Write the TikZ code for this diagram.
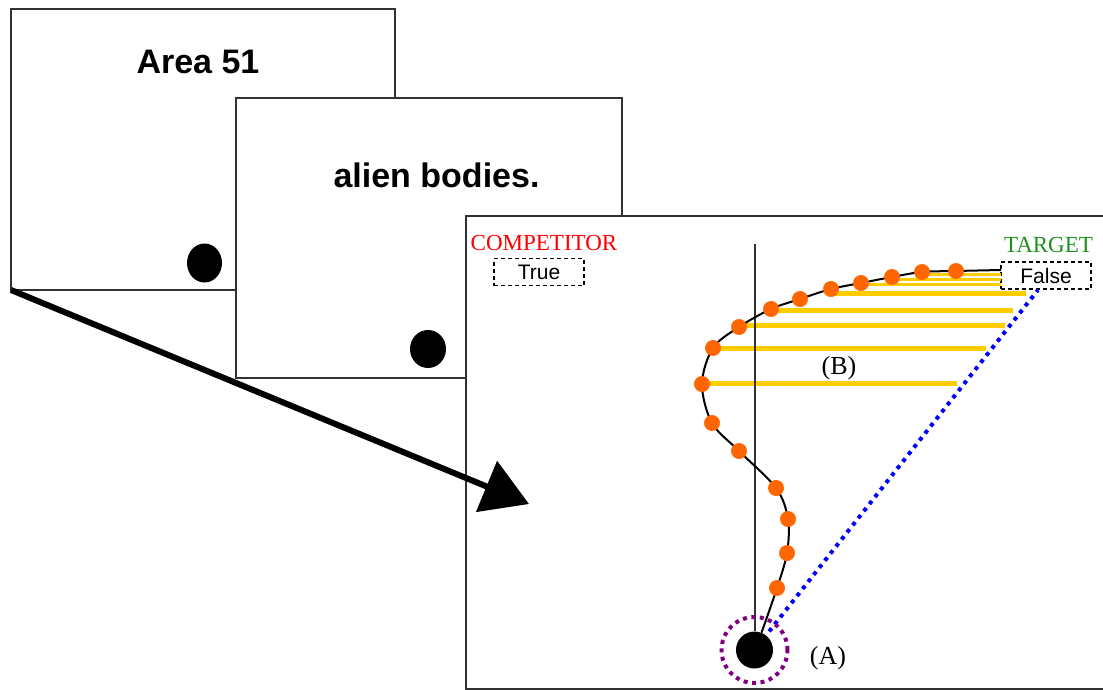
\documentclass[tikz,border=0pt]{standalone}
\usepackage{fontspec}
\setmainfont{Liberation Serif}
\setsansfont{Liberation Sans}
\usepackage{tikz}
\usetikzlibrary{arrows.meta,calc,positioning}
\definecolor{framegray}{RGB}{50,50,50}
\definecolor{dotorange}{RGB}{255,102,0}
\definecolor{trackgold}{RGB}{255,204,0}
\definecolor{targetgreen}{RGB}{30,145,30}
\definecolor{ringpurple}{RGB}{128,0,128}

\begin{document}
\begin{tikzpicture}[x=1pt,y=-1pt,
  slide/.style={draw=framegray,line width=2pt,fill=white,inner sep=0pt,outer sep=0pt},
  bigword/.style={font=\sffamily\bfseries\fontsize{34}{40}\selectfont},
  label/.style={font=\fontsize{23}{26}\selectfont,inner sep=0pt},
  answer/.style={draw,dash pattern=on 4pt off 3pt,line width=1.8pt,fill=white,minimum width=90pt,minimum height=27pt,inner sep=0pt,font=\sffamily\fontsize{21}{24}\selectfont},
  track/.style={draw=trackgold,line width=5pt},
  sightline/.style={draw=blue,line width=4pt,dash pattern=on 4pt off 5pt,shorten <=5pt},
  bigarrow/.style={line width=6pt,-{Triangle[length=46pt,width=54pt]}}]
\useasboundingbox (0,0) rectangle (1103,690);
\node[slide,minimum width=384pt,minimum height=281pt] (slide1) at (203,149.5) {};
\node[bigword] (word1) at (198,62) {Area 51};
\fill (204.5,263) ellipse [x radius=17.5,y radius=19.5];
\node[slide,minimum width=386pt,minimum height=280pt] (slide2) at (429,238) {};
\node[bigword] (word2) at (436.5,175) {alien bodies.};
\fill (428,349) ellipse [x radius=18,y radius=19];
\draw[slide] (466,216) rectangle (1108,689);
\node[label,text=red] (competitor) at (544,243) {COMPETITOR};
\node[answer] (truebox) at (539,272) {True};
\node[label,text=targetgreen] (target) at (1048.5,245) {TARGET};
\node[answer] (falsebox) at (1046,275.5) {False};
\draw[track] (702,383) -- (957,383) (714,348) -- (986,348) (740,325) -- (1005,325) (771,310) -- (1013,310) (832,293) -- (1026,293);
\draw[track,line width=3pt] (862,284) -- (1001,284) (892,279) -- (1001,279) (922,274) -- (1001,274);
\node[circle,fill=black,minimum size=37pt,inner sep=0pt] (start) at (754.5,650) {};
\coordinate (axistop) at (754.5,244);
\draw[framegray,line width=2pt] (axistop) -- (start);
\draw[sightline] (start) -- ($(falsebox.south)+(-8,0)$);
\node[circle,draw=ringpurple,line width=4pt,dash pattern=on 4pt off 4.5pt,minimum size=66pt] (ring) at (start) {};
\draw[line width=2pt] plot[smooth,tension=0.55] coordinates {(start.68) (777,588) (787,553) (788,519) (776,488) (739,451) (712,423) (702,384) (713,348) (739,327) (771,309) (800,299) (831,289) (861,283) (892,277) (922,272) (956,271) (1001,270)};
\path plot[only marks,mark=*,mark size=7.7pt,mark options={draw=dotorange,fill=dotorange,line width=0.5pt}] coordinates {(777,588) (787,553) (788,519) (776,488) (739,451) (712,423) (702,384) (713,348) (739,327) (771,309) (800,299) (831,289) (861,283) (892,277) (922,272) (956,271)};
\node[label,font=\fontsize{26}{30}\selectfont] (areaB) at (839,368) {(B)};
\node[label,font=\fontsize{26}{30}\selectfont] (pointA) at (828,658) {(A)};
\coordinate (tip) at (529,504);
\draw[bigarrow] (slide1.south west) -- (tip);
\end{tikzpicture}
\end{document}
